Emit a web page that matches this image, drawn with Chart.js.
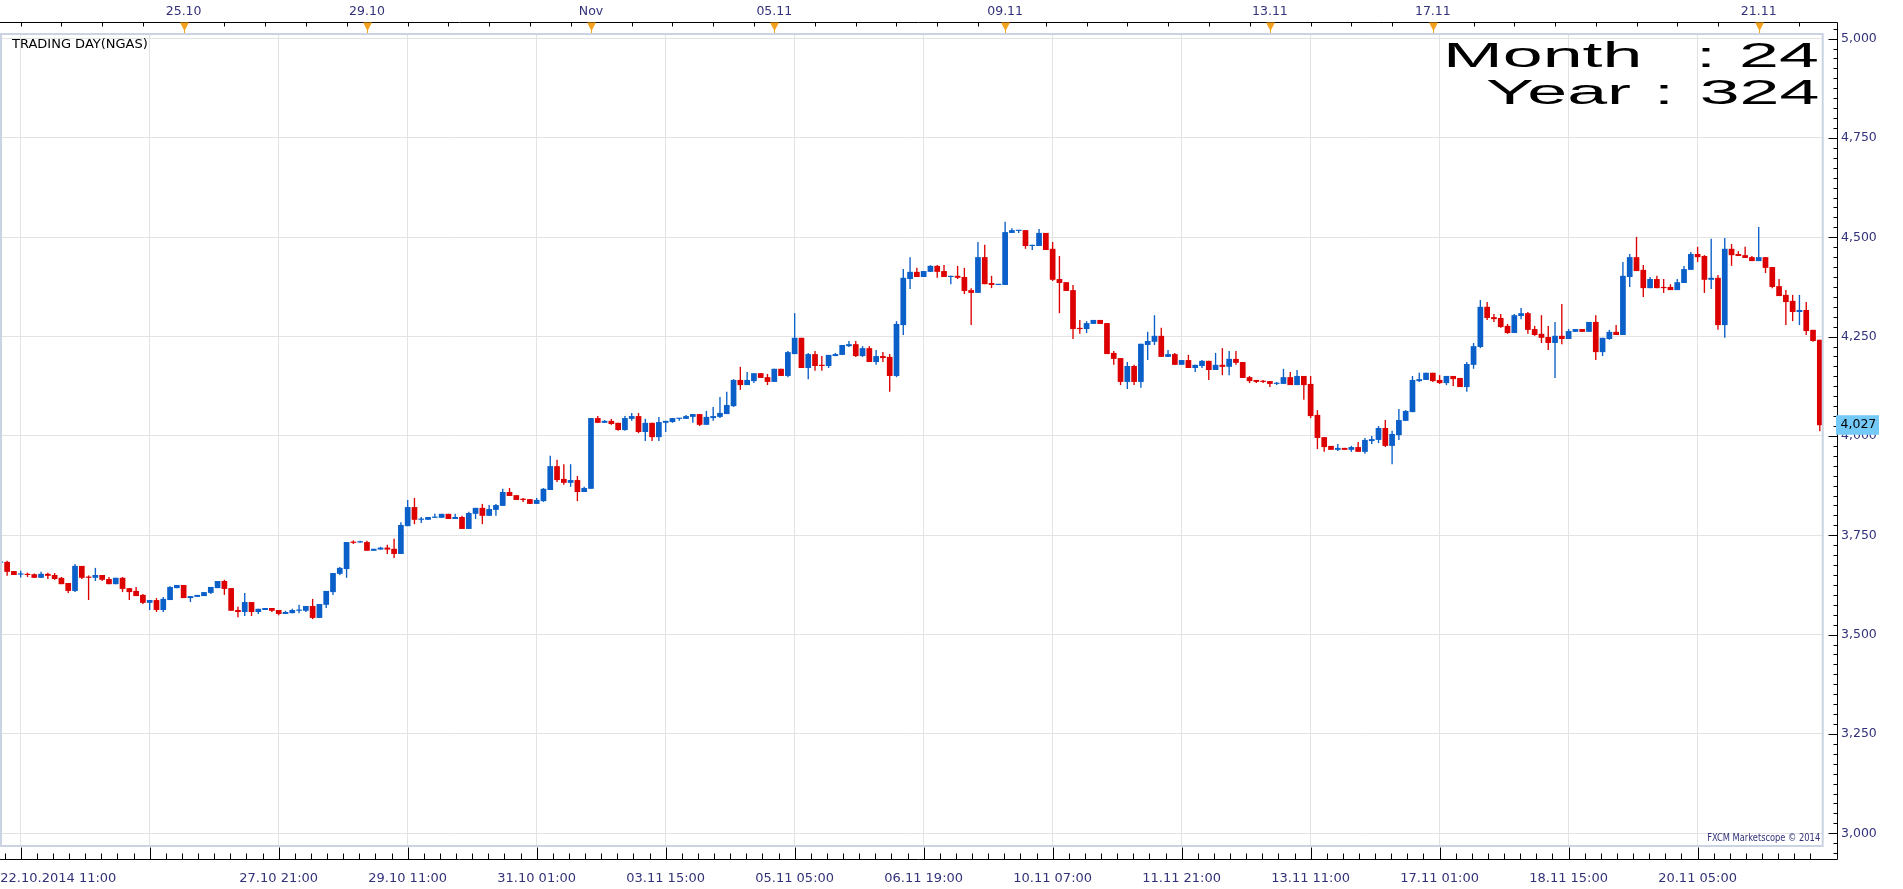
<!DOCTYPE html>
<html><head><meta charset="utf-8">
<script src="https://cdn.jsdelivr.net/npm/chart.js@4.4.0/dist/chart.umd.min.js"></script>
<style>
html,body{margin:0;padding:0;background:#fff;overflow:hidden}
#wrap{position:relative;width:1903px;height:889px;background:#fff}
canvas{display:block;position:absolute;left:0;top:0}
.ov{position:absolute;white-space:pre;font-family:"DejaVu Sans",sans-serif}
.big{position:absolute;white-space:pre;font-family:"Liberation Sans",Arial,sans-serif;font-size:35px;line-height:35px;color:#000}
.bl{transform:scaleX(2.05);transform-origin:left top}
.br{transform:scaleX(2.05);transform-origin:right top}
.fx{transform:scaleX(0.83);transform-origin:right top}
</style></head><body>
<div id="wrap">
<canvas id="c" width="1903" height="889"></canvas>
<div class="ov" style="left:12px;top:36px;font-size:13px;line-height:15px;color:#000">TRADING DAY(NGAS)</div>
<div class="ov fx" style="right:83px;top:831px;font-size:10px;line-height:13px;color:#32327a">FXCM Marketscope © 2014</div>
<div class="big bl" style="left:1442.7px;top:36.6px">Month</div>
<div class="big bl" style="left:1695.8px;top:36.6px">:</div>
<div class="big br" style="right:83.6px;top:36.6px">24</div>
<div class="big bl" style="left:1486px;top:73.9px">Year</div>
<div class="big bl" style="left:1653.8px;top:73.9px">:</div>
<div class="big br" style="right:83.6px;top:73.9px">324</div>
</div>
<script>
const opens = [3.681,3.683,3.660,3.651,3.653,3.652,3.643,3.653,3.650,3.643,3.630,3.610,3.673,3.646,3.643,3.650,3.640,3.627,3.643,3.617,3.610,3.600,3.580,3.587,3.562,3.587,3.617,3.625,3.592,3.595,3.597,3.605,3.617,3.635,3.617,3.562,3.557,3.582,3.557,3.562,3.567,3.562,3.552,3.554,3.560,3.560,3.572,3.542,3.575,3.607,3.653,3.665,3.734,3.732,3.733,3.711,3.714,3.719,3.716,3.703,3.773,3.821,3.789,3.789,3.794,3.794,3.804,3.791,3.796,3.766,3.804,3.819,3.799,3.814,3.824,3.859,3.851,3.842,3.841,3.829,3.836,3.864,3.924,3.892,3.882,3.889,3.859,3.867,4.045,4.033,4.038,4.033,4.015,4.043,4.050,4.010,4.033,3.997,4.033,4.035,4.043,4.043,4.048,4.055,4.028,4.045,4.048,4.055,4.075,4.141,4.128,4.138,4.158,4.148,4.136,4.169,4.151,4.206,4.247,4.171,4.206,4.179,4.176,4.201,4.204,4.226,4.231,4.201,4.221,4.186,4.201,4.199,4.151,4.279,4.395,4.413,4.400,4.413,4.428,4.415,4.400,4.403,4.400,4.367,4.360,4.450,4.385,4.380,4.380,4.511,4.516,4.518,4.478,4.478,4.511,4.471,4.395,4.387,4.367,4.272,4.269,4.282,4.292,4.284,4.209,4.196,4.136,4.176,4.136,4.229,4.237,4.252,4.199,4.206,4.179,4.191,4.171,4.176,4.189,4.166,4.179,4.174,4.194,4.186,4.148,4.141,4.139,4.138,4.131,4.131,4.148,4.128,4.151,4.131,4.053,3.997,3.975,3.965,3.970,3.965,3.972,3.960,3.987,3.990,4.020,3.975,4.002,4.038,4.060,4.138,4.141,4.159,4.141,4.133,4.151,4.146,4.123,4.179,4.224,4.325,4.299,4.297,4.277,4.259,4.302,4.309,4.269,4.257,4.249,4.234,4.252,4.244,4.262,4.269,4.262,4.287,4.211,4.244,4.262,4.254,4.400,4.450,4.418,4.372,4.395,4.375,4.375,4.367,4.385,4.418,4.458,4.453,4.393,4.398,4.279,4.471,4.458,4.455,4.450,4.440,4.450,4.425,4.377,4.355,4.340,4.312,4.317,4.267,4.242];
const highs = [3.685,3.686,3.660,3.661,3.656,3.654,3.658,3.656,3.655,3.645,3.630,3.678,3.673,3.649,3.668,3.650,3.645,3.643,3.645,3.617,3.620,3.602,3.587,3.592,3.595,3.622,3.625,3.625,3.597,3.600,3.607,3.620,3.635,3.638,3.617,3.570,3.605,3.582,3.565,3.567,3.567,3.562,3.560,3.565,3.575,3.572,3.590,3.577,3.610,3.655,3.670,3.733,3.737,3.736,3.736,3.716,3.721,3.726,3.741,3.783,3.839,3.844,3.796,3.796,3.804,3.804,3.804,3.804,3.799,3.809,3.819,3.829,3.826,3.829,3.867,3.869,3.851,3.844,3.841,3.844,3.869,3.950,3.940,3.929,3.929,3.899,3.872,4.045,4.050,4.040,4.043,4.033,4.050,4.058,4.058,4.043,4.033,4.048,4.038,4.045,4.045,4.053,4.055,4.055,4.063,4.073,4.098,4.111,4.143,4.174,4.161,4.158,4.158,4.156,4.169,4.169,4.214,4.309,4.247,4.209,4.214,4.201,4.204,4.209,4.229,4.239,4.239,4.226,4.226,4.216,4.211,4.206,4.289,4.420,4.450,4.423,4.415,4.430,4.430,4.430,4.403,4.428,4.423,4.372,4.488,4.481,4.403,4.382,4.539,4.523,4.518,4.518,4.481,4.521,4.511,4.488,4.453,4.387,4.380,4.292,4.289,4.292,4.292,4.284,4.214,4.196,4.186,4.179,4.232,4.262,4.304,4.272,4.216,4.209,4.191,4.204,4.179,4.191,4.189,4.209,4.221,4.214,4.214,4.186,4.151,4.141,4.141,4.138,4.136,4.169,4.161,4.166,4.151,4.151,4.065,3.997,3.975,3.980,3.970,3.975,3.985,3.995,4.000,4.025,4.040,4.013,4.068,4.065,4.151,4.159,4.159,4.159,4.153,4.151,4.151,4.146,4.186,4.234,4.342,4.337,4.307,4.307,4.282,4.307,4.322,4.312,4.277,4.304,4.277,4.287,4.332,4.269,4.269,4.269,4.287,4.304,4.247,4.267,4.279,4.438,4.458,4.501,4.430,4.400,4.403,4.395,4.382,4.395,4.428,4.463,4.476,4.455,4.496,4.405,4.498,4.483,4.465,4.476,4.453,4.526,4.450,4.425,4.395,4.367,4.355,4.355,4.337,4.267,4.242];
const lows = [3.681,3.648,3.650,3.644,3.645,3.643,3.643,3.640,3.638,3.627,3.605,3.607,3.640,3.587,3.635,3.635,3.627,3.627,3.607,3.587,3.597,3.577,3.562,3.557,3.557,3.587,3.617,3.592,3.582,3.595,3.597,3.602,3.617,3.600,3.560,3.544,3.547,3.547,3.552,3.562,3.557,3.549,3.552,3.554,3.554,3.557,3.539,3.542,3.567,3.600,3.650,3.643,3.728,3.731,3.711,3.711,3.714,3.703,3.693,3.703,3.773,3.778,3.781,3.789,3.794,3.794,3.791,3.791,3.766,3.766,3.791,3.778,3.799,3.799,3.824,3.849,3.839,3.834,3.829,3.829,3.834,3.864,3.884,3.877,3.872,3.836,3.859,3.867,4.033,4.033,4.028,4.013,4.013,4.038,4.007,3.987,3.987,3.987,4.010,4.033,4.038,4.043,4.033,4.025,4.028,4.038,4.045,4.055,4.073,4.116,4.128,4.133,4.146,4.128,4.136,4.151,4.148,4.206,4.171,4.143,4.164,4.164,4.171,4.201,4.204,4.224,4.199,4.199,4.186,4.179,4.186,4.111,4.148,4.254,4.370,4.400,4.400,4.413,4.398,4.400,4.382,4.395,4.357,4.279,4.360,4.382,4.372,4.380,4.380,4.511,4.511,4.471,4.468,4.478,4.468,4.390,4.309,4.365,4.244,4.257,4.259,4.282,4.282,4.206,4.179,4.128,4.118,4.128,4.121,4.191,4.229,4.199,4.199,4.179,4.179,4.171,4.161,4.171,4.141,4.166,4.153,4.153,4.179,4.146,4.133,4.133,4.133,4.123,4.128,4.131,4.128,4.128,4.091,4.045,3.967,3.960,3.965,3.962,3.965,3.960,3.960,3.955,3.980,3.982,3.972,3.929,3.990,4.038,4.060,4.136,4.141,4.136,4.131,4.128,4.126,4.123,4.111,4.169,4.221,4.292,4.287,4.272,4.257,4.259,4.294,4.257,4.252,4.234,4.216,4.146,4.231,4.244,4.262,4.262,4.262,4.191,4.201,4.242,4.254,4.254,4.375,4.415,4.350,4.372,4.372,4.360,4.367,4.367,4.385,4.418,4.438,4.360,4.370,4.267,4.247,4.428,4.453,4.448,4.440,4.440,4.410,4.372,4.352,4.279,4.289,4.279,4.254,4.237,4.012];
const closes = [3.684,3.658,3.650,3.653,3.650,3.643,3.653,3.648,3.640,3.627,3.610,3.673,3.643,3.643,3.650,3.638,3.627,3.643,3.615,3.607,3.597,3.580,3.587,3.562,3.590,3.620,3.625,3.592,3.597,3.600,3.607,3.620,3.635,3.615,3.560,3.557,3.582,3.557,3.565,3.567,3.560,3.552,3.557,3.562,3.563,3.572,3.542,3.577,3.610,3.655,3.668,3.733,3.731,3.734,3.711,3.716,3.719,3.714,3.703,3.776,3.821,3.789,3.792,3.796,3.796,3.804,3.791,3.796,3.766,3.806,3.819,3.799,3.816,3.826,3.859,3.849,3.839,3.839,3.829,3.839,3.867,3.924,3.889,3.882,3.889,3.859,3.869,4.045,4.033,4.038,4.030,4.015,4.045,4.050,4.010,4.033,3.997,4.035,4.038,4.045,4.045,4.050,4.055,4.028,4.048,4.050,4.058,4.078,4.141,4.128,4.141,4.158,4.146,4.136,4.169,4.151,4.211,4.247,4.171,4.206,4.176,4.176,4.204,4.206,4.229,4.231,4.201,4.221,4.186,4.201,4.196,4.151,4.282,4.398,4.413,4.400,4.415,4.428,4.413,4.400,4.403,4.398,4.365,4.360,4.450,4.382,4.380,4.382,4.513,4.518,4.518,4.478,4.481,4.511,4.468,4.393,4.385,4.365,4.269,4.269,4.284,4.292,4.282,4.206,4.194,4.136,4.176,4.136,4.232,4.239,4.252,4.199,4.206,4.179,4.191,4.171,4.179,4.189,4.166,4.179,4.174,4.194,4.184,4.146,4.138,4.136,4.136,4.131,4.133,4.148,4.128,4.151,4.128,4.050,3.995,3.972,3.965,3.970,3.965,3.972,3.960,3.990,3.992,4.020,3.975,4.005,4.040,4.063,4.141,4.143,4.159,4.138,4.133,4.151,4.143,4.123,4.181,4.226,4.325,4.297,4.294,4.274,4.259,4.304,4.309,4.267,4.254,4.247,4.234,4.252,4.244,4.264,4.269,4.262,4.287,4.211,4.247,4.262,4.254,4.403,4.450,4.415,4.372,4.395,4.372,4.372,4.367,4.387,4.420,4.458,4.450,4.393,4.398,4.279,4.471,4.455,4.453,4.448,4.440,4.450,4.423,4.375,4.352,4.337,4.312,4.317,4.264,4.239,4.027];

const bottomTickIdx = [0,3,22,41,60,79,98,117,136,155,174,193,212,231,250];
const bottomTickLabels = ['22.10.2014 11:00','','','27.10 21:00','29.10 11:00','31.10 01:00','03.11 15:00','05.11 05:00','06.11 19:00','10.11 07:00','11.11 21:00','13.11 11:00','17.11 01:00','18.11 15:00','20.11 05:00'];
const topTickIdx = [27,54,87,114,148,187,211,259];
const topTickLabels = ['25.10','29.10','Nov','05.11','09.11','13.11','17.11','21.11'];
const priceTicks = [3.00,3.25,3.50,3.75,4.00,4.25,4.50,4.75,5.00];
const lastPrice = closes[closes.length-1];

const UP = '#0a5fc8', DOWN = '#dc0000';
const NAVY = '#32327a', GRID = '#e3e3e3', FRAME = '#cad3e2', MARK = '#f5a31e';
const X_MIN = -0.0486, X_MAX = 268.47;
const Y_MIN = 2.96804, Y_MAX = 5.01158;
const fmt = v => v.toFixed(3).replace('.', ',');
const colors = closes.map((c, i) => c >= opens[i] ? UP : DOWN);

const axesPlugin = {
  id: 'mkAxes',
  afterDraw(chart) {
    const {ctx, chartArea: a} = chart;
    const xs = chart.scales.x, ys = chart.scales.y;
    const AX = a.right + 14.5, TY = a.top - 11.5, BY = a.bottom + 13.5;
    ctx.save();
    ctx.strokeStyle = FRAME; ctx.lineWidth = 2;
    ctx.strokeRect(a.left + 1, a.top, a.right - a.left - 1.3, a.bottom - a.top);
    ctx.strokeStyle = '#000'; ctx.lineWidth = 1;
    ctx.beginPath();
    ctx.moveTo(0, TY); ctx.lineTo(AX, TY); ctx.lineTo(AX, BY); ctx.lineTo(0, BY);
    ctx.stroke();
    ctx.beginPath();
    for (let k = 110; k <= 210; k++) {
      const v = k * 0.025;
      const py = Math.round(ys.getPixelForValue(v)) + 0.5;
      if (py < TY + 2 || py > BY - 2) continue;
      const len = (k % 10 === 0) ? 9 : 4;
      ctx.moveTo(AX - len, py); ctx.lineTo(AX, py);
    }
    for (let s = -1; s <= 14; s++) {
      const m = 3 + 19 * s;
      for (let j = 0; j < 8; j++) {
        const v = m + 19 * j / 8;
        if (v < xs.min || v > xs.max) continue;
        const px = Math.round(xs.getPixelForValue(v)) + 0.5;
        const len = j === 0 ? 12 : 6;
        ctx.moveTo(px, BY - len); ctx.lineTo(px, BY);
      }
    }
    const topMinor = [];
    for (let s = 0; s < topTickIdx.length; s++) {
      const start = topTickIdx[s];
      const end = s + 1 < topTickIdx.length ? topTickIdx[s + 1] : xs.max;
      for (let v = start + 6; v < end - 2; v += 6) topMinor.push(v);
    }
    for (let v = topTickIdx[0] - 6; v > xs.min; v -= 6) topMinor.push(v);
    topMinor.forEach(v => {
      const px = Math.round(xs.getPixelForValue(v)) + 0.5;
      ctx.moveTo(px, TY); ctx.lineTo(px, TY + 4);
    });
    ctx.stroke();
    ctx.fillStyle = MARK; ctx.strokeStyle = MARK;
    topTickIdx.forEach(v => {
      const px = Math.round(xs.getPixelForValue(v)) + 0.5;
      ctx.beginPath();
      ctx.moveTo(px - 4.5, TY); ctx.lineTo(px + 4.5, TY); ctx.lineTo(px, TY + 8.5); ctx.closePath();
      ctx.fill();
      ctx.beginPath(); ctx.moveTo(px, TY + 7); ctx.lineTo(px, a.top - 1); ctx.stroke();
    });
    const py = ys.getPixelForValue(lastPrice);
    ctx.fillStyle = '#74c9f7';
    ctx.fillRect(a.right + 13, py - 10, 43, 19.5);
    ctx.fillStyle = '#000';
    ctx.font = '12.5px "DejaVu Sans"';
    ctx.textBaseline = 'middle'; ctx.textAlign = 'left';
    ctx.fillText(fmt(lastPrice), a.right + 17.5, py);
    ctx.restore();
  }
};

new Chart(document.getElementById('c'), {
  type: 'bar',
  data: {
    datasets: [
      {
        label: 'body',
        data: opens.map((o, i) => ({x: i, y: [o, closes[i]]})),
        backgroundColor: colors,
        categoryPercentage: 1, barPercentage: 0.84,
        minBarLength: 1.2, grouped: false, order: 0, borderWidth: 0
      },
      {
        label: 'wick',
        data: lows.map((l, i) => ({x: i, y: [l, highs[i]]})),
        backgroundColor: colors,
        categoryPercentage: 1, barPercentage: 0.2,
        minBarLength: 1, grouped: false, order: 1, borderWidth: 0
      }
    ]
  },
  options: {
    responsive: false, animation: false, devicePixelRatio: 1, events: [],
    layout: {padding: 0},
    plugins: {legend: {display: false}, tooltip: {enabled: false}, title: {display: false}},
    scales: {
      x: {
        type: 'linear', position: 'bottom', min: X_MIN, max: X_MAX, offset: false,
        afterFit: s => { s.height = 43; },
        afterBuildTicks: s => { s.ticks = bottomTickIdx.map(v => ({value: v})).concat([{value: X_MAX}]); },
        ticks: {
          autoSkip: false, maxRotation: 0, minRotation: 0, align: 'inner', padding: 0,
          color: NAVY, font: {family: 'DejaVu Sans', size: 13, lineHeight: 66 / 13},
          callback: (v, i) => i < bottomTickLabels.length ? bottomTickLabels[i] : ''
        },
        grid: {
          offset: false, drawTicks: false, lineWidth: 1,
          color: c => (c.index === 0 || c.index === bottomTickIdx.length) ? 'rgba(0,0,0,0)' : GRID
        },
        border: {display: false}
      },
      xTop: {
        type: 'linear', position: 'top', min: X_MIN, max: X_MAX, offset: false,
        afterFit: s => { s.height = 34; },
        afterBuildTicks: s => { s.ticks = topTickIdx.map(v => ({value: v})); },
        ticks: {
          autoSkip: false, maxRotation: 0, minRotation: 0, padding: 14.5,
          color: NAVY, font: {family: 'DejaVu Sans', size: 12.5},
          callback: (v, i) => topTickLabels[i]
        },
        grid: {display: false, drawTicks: false, offset: false},
        border: {display: false}
      },
      y: {
        type: 'linear', position: 'right', min: Y_MIN, max: Y_MAX,
        afterFit: s => { s.width = 80; },
        afterBuildTicks: s => { s.ticks = priceTicks.map(v => ({value: v})); },
        ticks: {padding: 18, color: NAVY, font: {family: 'DejaVu Sans', size: 12.5}, callback: v => fmt(v)},
        grid: {color: GRID, drawTicks: false, lineWidth: 1},
        border: {display: false}
      }
    }
  },
  plugins: [axesPlugin]
});
</script>
</body></html>
